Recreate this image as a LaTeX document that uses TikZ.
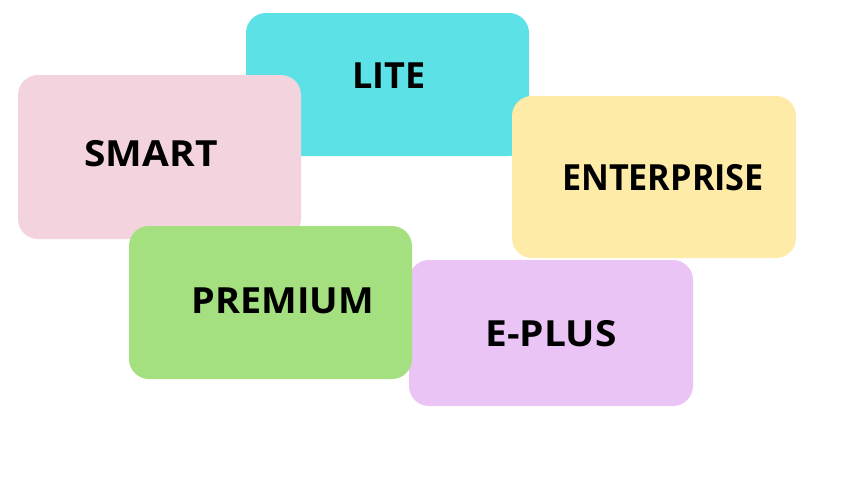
\documentclass[tikz,border=0pt]{standalone}
\usepackage{fontspec}
\setmainfont{Open Sans}
\definecolor{litecyan}{HTML}{5CE1E6}
\definecolor{smartpink}{HTML}{F2D3DE}
\definecolor{entyellow}{HTML}{FEEBA8}
\definecolor{premgreen}{HTML}{A4DF80}
\definecolor{epluspurple}{HTML}{E9C4F5}
\tikzset{
  card/.style={rounded corners=20pt,inner sep=0pt},
  plan/.style={font=\fontsize{36}{42}\selectfont\bfseries,text=black,inner sep=0pt}
}
\begin{document}
\begin{tikzpicture}[x=1pt,y=-1pt]
                \useasboundingbox (0,0) rectangle (854,480);
                \node[card,fill=litecyan,minimum width=283pt,minimum height=143pt] (lite) at (387.5,84.5) {};
                \node[card,fill=smartpink,minimum width=283pt,minimum height=164pt] (smart) at (159.5,157) {};
                \node[card,fill=entyellow,minimum width=284pt,minimum height=162pt] (enterprise) at (654,177) {};
                \node[card,fill=epluspurple,minimum width=284pt,minimum height=146pt] (eplus) at (551,333) {};
                \node[card,fill=premgreen,minimum width=283pt,minimum height=153pt] (premium) at (270.5,302.5) {};
                \node[plan] (litetext) at (389,75.5) {LITE};
                \node[plan,xscale=1.08] (smarttext) at (151,154) {SMART};
                \node[plan,xscale=0.95] (enterprisetext) at (663,178) {ENTERPRISE};
                \node[plan,xscale=1.05] (premiumtext) at (283,300.5) {PREMIUM};
                \node[plan,xscale=1.08] (eplustext) at (551,334) {E-PLUS};
            \end{tikzpicture}
\end{document}
